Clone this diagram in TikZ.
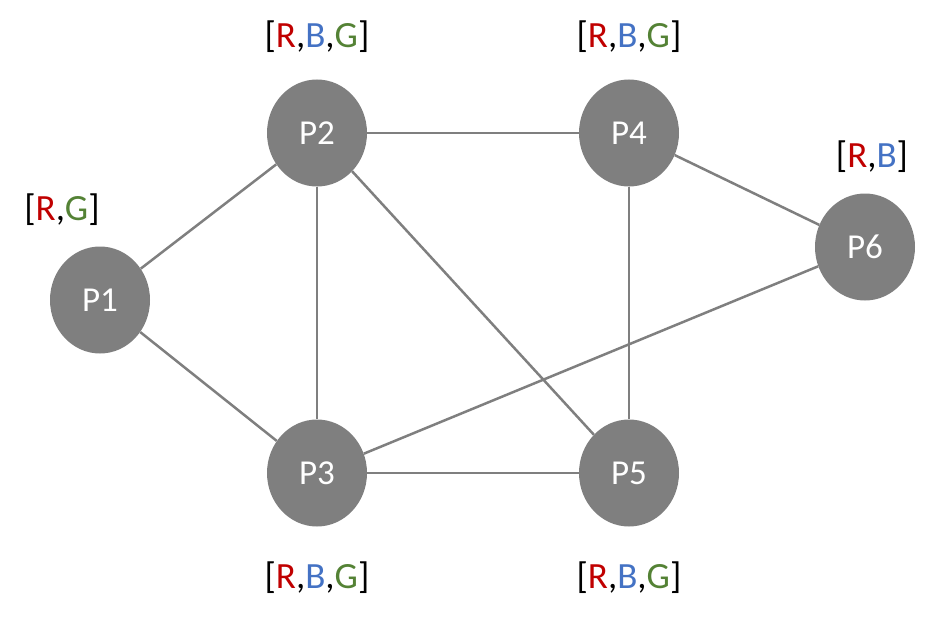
\documentclass[tikz,border=0pt]{standalone}
\usepackage{fontspec}
\setmainfont{Carlito}
\usetikzlibrary{shapes.geometric}
\definecolor{nodegray}{HTML}{7F7F7F}
\definecolor{cR}{HTML}{C00000}
\definecolor{cB}{HTML}{4472C4}
\definecolor{cG}{HTML}{548235}
\newcommand{\Rc}{\textcolor{cR}{R}}
\newcommand{\Bc}{\textcolor{cB}{B}}
\newcommand{\Gc}{\textcolor{cG}{G}}
\begin{document}
\begin{tikzpicture}[x=1pt,y=-1pt,
  proc/.style={ellipse, fill=nodegray, draw=none, minimum width=100pt, minimum height=107pt, inner sep=0pt, text=white, font=\fontsize{35}{35}\selectfont},
  colorset/.style={font=\fontsize{37}{37}\selectfont, inner sep=0pt},
  link/.style={draw=nodegray, line width=2.5pt}]
\useasboundingbox (0,0) rectangle (932,623);
% processes
\node[proc] (p1) at (100,300) {P1};
\node[proc] (p2) at (317,133) {P2};
\node[proc] (p3) at (317,473) {P3};
\node[proc] (p4) at (629,133) {P4};
\node[proc] (p5) at (629,473) {P5};
\node[proc] (p6) at (865,247) {P6};
% edges
\draw[link] (p1) -- (p2);
\draw[link] (p1) -- (p3);
\draw[link] (p2) -- (p3);
\draw[link] (p2) -- (p4);
\draw[link] (p2) -- (p5);
\draw[link] (p3) -- (p5);
\draw[link] (p3) -- (p6);
\draw[link] (p4) -- (p5);
\draw[link] (p4) -- (p6);
% colour sets
\node[colorset] (l1) at (62,210) {[\Rc,\Gc]};
\node[colorset] (l2) at (317,37) {[\Rc,\Bc,\Gc]};
\node[colorset] (l4) at (629,37) {[\Rc,\Bc,\Gc]};
\node[colorset] (l6) at (872,157) {[\Rc,\Bc]};
\node[colorset] (l3) at (317,578) {[\Rc,\Bc,\Gc]};
\node[colorset] (l5) at (629,578) {[\Rc,\Bc,\Gc]};
\end{tikzpicture}
\end{document}
